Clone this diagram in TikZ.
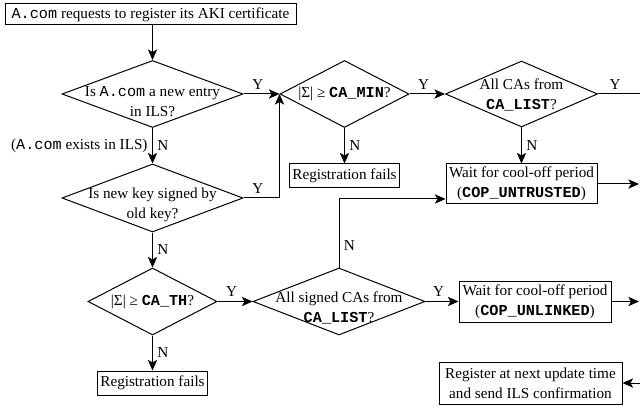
\documentclass[tikz,border=0pt]{standalone}
\usepackage{fontspec}
\setmainfont{Liberation Serif}
\setmonofont{Liberation Mono}
\usetikzlibrary{shapes.geometric,arrows.meta}

\begin{document}
\begin{tikzpicture}[x=0.75pt,y=0.75pt,yscale=-1,xscale=1,
  every node/.style={font=\fontsize{11.4}{15}\selectfont},
  box/.style={draw, rectangle, align=center, inner sep=0pt},
  dia/.style={draw, diamond, inner sep=0pt},
  dtext/.style={align=center, inner sep=0pt},
  flow/.style={-{Stealth[length=8pt,width=7pt,inset=2pt]}},
  line width=0.75pt]
%set diagram size 640 x 410
\useasboundingbox (0,0) rectangle (640,410);

% Boxes
\node[box, minimum width=218.25pt, minimum height=15.75pt] (start) at (150.5,14.5) {\texttt{A.com} requests to register its AKI certificate};
\node[box, minimum width=82.5pt, minimum height=18pt] (fail1) at (344.5,176) {Registration fails};
\node[box, minimum width=113.25pt, minimum height=30pt] (wait1) at (521.5,184) {Wait for cool-off period\\(\texttt{\bfseries COP\_UNTRUSTED})};
\node[box, minimum width=114pt, minimum height=30.75pt] (wait2) at (535,301.5) {Wait for cool-off period\\(\texttt{\bfseries COP\_UNLINKED})};
\node[box, minimum width=82.5pt, minimum height=18pt] (fail2) at (152.5,383) {Registration fails};
\node[box, minimum width=137.25pt, minimum height=31.5pt] (reg) at (530.5,383) {Register at next update time\\and send ILS confirmation};

% Diamonds
\node[dia, minimum width=135.75pt, minimum height=50.25pt] (d1) at (152.5,94) {};
\node[dia, minimum width=96.75pt, minimum height=50.25pt] (d2) at (344.5,94) {};
\node[dia, minimum width=114pt, minimum height=49.5pt] (d3) at (521.5,94) {};
\node[dia, minimum width=135.75pt, minimum height=51pt] (d4) at (152.5,198) {};
\node[dia, minimum width=96.75pt, minimum height=50.25pt] (d6) at (152.5,301.5) {};
\node[dia, minimum width=129pt, minimum height=50.25pt] (d5) at (339,301.5) {};

% Text Node
\node[dtext] (d1t) at (152.5,102) {Is \texttt{A.com} a new entry\\in ILS?};
\node[dtext] (d2t) at (344.5,94) {|Σ| ≥ \texttt{\bfseries CA\_MIN}?};
\node[dtext] (d3t) at (521.5,95) {All CAs from\\\texttt{\bfseries CA\_LIST}?};
\node[dtext] (d4t) at (152.5,205) {Is new key signed by\\old key?};
\node[dtext] (d6t) at (152.5,301.5) {|Σ| ≥ \texttt{\bfseries CA\_TH}?};
\node[dtext] (d5t) at (339,307.5) {All signed CAs from\\\texttt{\bfseries CA\_LIST}?};

% Free ends
\coordinate (r1) at (641,94);
\coordinate (r2) at (639,184);
\coordinate (r3) at (639,301.5);
\coordinate (r4) at (641,383);
\coordinate (w1in) at (wait1.west |- 0,199);

% Connectors
\draw[flow] (start.south -| d1.north) -- (d1.north);
\draw[flow] (d1.east) -- node[above, pos=0.4] {Y} (d2.west);
\draw[flow] (d1.south) -- node[right] {N} node[left] {(\texttt{A.com} exists in ILS)} (d4.north);
\draw[flow] (d4.east) -| node[above, pos=0.2] {Y} (d2.west);
\draw[flow] (d2.south) -- node[right] {N} (fail1.north);
\draw[flow] (d2.east) -- node[above, pos=0.4] {Y} (d3.west);
\draw (d3.east) -- node[above, pos=0.4] {Y} (r1);
\draw[flow] (d3.south) -- node[right] {N} (wait1.north);
\draw[flow] (wait1.east) -- (r2);
\draw[flow] (d4.south) -- node[right] {N} (d6.north);
\draw[flow] (d6.east) -- node[above, pos=0.4] {Y} (d5.west);
\draw[flow] (d6.south) -- node[right] {N} (fail2.north);
\draw[flow] (d5.north) |- node[right, pos=0.16] {N} (w1in);
\draw[flow] (d5.east) -- node[above, pos=0.4] {Y} (wait2.west);
\draw[flow] (wait2.east) -- (r3);
\draw[flow] (r4) -- (reg.east);
\end{tikzpicture}
\end{document}
